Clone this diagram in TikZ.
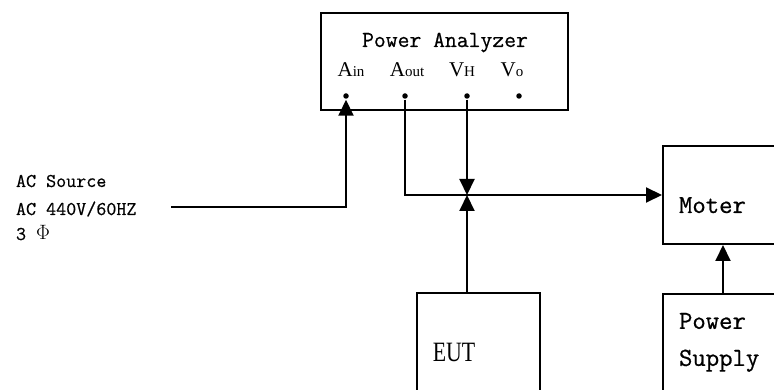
\documentclass[tikz,border=0pt]{standalone}
\usepackage{fontspec}
\usetikzlibrary{arrows.meta}
\setmonofont[FakeBold=0.6]{Latin Modern Mono}
\newfontfamily\portfont{Liberation Serif}
\newfontfamily\eutfont[FakeStretch=0.78]{Liberation Serif}
\newcommand\portlbl[2]{{\portfont\fontsize{21}{21}\selectfont #1{\fontsize{15}{15}\selectfont #2}}}
\begin{document}
\begin{tikzpicture}[x=1pt, y=-1pt, line width=2pt,
    box/.style={draw, rectangle, anchor=north west, inner sep=0pt},
    arr/.style={-{Triangle[length=16pt, width=15pt]}},
    dot/.style={circle, fill, inner sep=0pt, minimum size=5.5pt},
    mono/.style={font=\ttfamily\fontsize{#1}{#1}\selectfont, inner sep=0pt}]
    \useasboundingbox (0,0) rectangle (774,390);
    \clip (0,0) rectangle (774,390);

    % Power Analyzer
    \node[box, minimum width=247pt, minimum height=97pt] (pa) at (320,12) {};
    \node[mono=23, anchor=base] (patitle) at (445,47) {Power Analyzer};
    \node[inner sep=0pt, anchor=base] (lain) at (351,77) {\portlbl{A}{in}};
    \node[inner sep=0pt, anchor=base] (laout) at (407,77) {\portlbl{A}{out}};
    \node[inner sep=0pt, anchor=base] (lvh) at (462,77) {\portlbl{V}{H}};
    \node[inner sep=0pt, anchor=base] (lvo) at (512,77) {\portlbl{V}{o}};
    \node[dot] (ain) at (346,96) {};
    \node[dot] (aout) at (405,96) {};
    \node[dot] (vh) at (467,96) {};
    \node[dot] (vo) at (519,96) {};

    % AC source
    \node[mono=19.5, anchor=base west] (ac) at (15,187) {AC Source};
    \node[mono=19.5, anchor=base west] (acv) at (15,215) {AC 440V/60HZ};
    \node[mono=19.5, anchor=base west] (acph) at (15,240) {3 $\Phi$};
    \coordinate (acin) at (171,207);

    % boxes
    \node[box, minimum width=150pt, minimum height=98pt] (moter) at (662,145) {};
    \node[mono=26, anchor=base west] (motertxt) at (678,213) {Moter};
    \node[box, minimum width=150pt, minimum height=130pt] (psupply) at (662,293) {};
    \node[mono=26, anchor=north west, align=left, font=\ttfamily\fontsize{26}{37}\selectfont] (psuptxt) at (678,312) {Power\\Supply};
    \node[box, minimum width=123pt, minimum height=130pt] (eut) at (416,292) {};
    \node[inner sep=0pt, anchor=base, font=\eutfont\fontsize{28}{28}\selectfont] (euttxt) at (454,361) {EUT};

    % connections
    \coordinate (j) at (vh |- moter.west);
    \draw[arr] (acin) -| (ain);
    \draw[arr] (aout) |- (moter.west);
    \draw[arr] (vh) -- (j);
    \draw[arr] (eut.north -| j) -- (j);
    \draw[arr] ([xshift=61pt]psupply.north west) -- ([xshift=61pt]moter.south west);
\end{tikzpicture}
\end{document}
